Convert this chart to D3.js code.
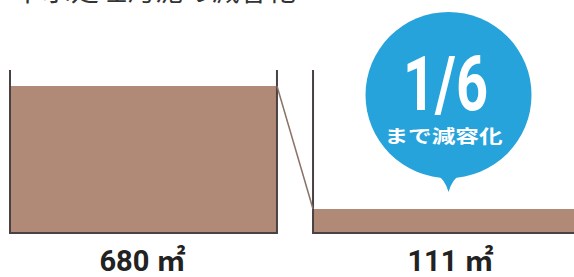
<!DOCTYPE html>
<html>
<head>
<meta charset="utf-8">
<script src="https://cdn.jsdelivr.net/npm/d3@7"></script>
<style>
  html, body { margin: 0; padding: 0; background: #fff; }
  svg { display: block; }
</style>
</head>
<body>
<svg id="mychart" width="574" height="277"></svg>
<script>
// data
const title = "下水処理汚泥の減容化";
const categories = ["before", "after"];
const volumes = [680, 111];
const labels = ["680 ㎡", "111 ㎡"];
const badgeMain = "1/6";
const badgeSub = "まで減容化";

const width = 574, height = 277;
const bottom = 233, fillTop = 86, wallTop = 70;

const svg = d3.select("#mychart");

// title (cut off at the top edge of the picture)
svg.append("text")
  .attr("x", 14)
  .attr("y", 1)
  .attr("font-family", "Noto Sans CJK JP")
  .attr("font-size", 27)
  .attr("fill", "#333")
  .attr("textLength", 282)
  .attr("lengthAdjust", "spacingAndGlyphs")
  .text(title);

const xScale = d3.scaleBand()
  .domain(categories)
  .range([10, 580])
  .paddingInner(0.119)
  .paddingOuter(0);

const yScale = d3.scaleLinear()
  .domain([0, d3.max(volumes)])
  .range([bottom, fillTop]);

const rows = categories.map((c, i) => ({ cat: c, v: volumes[i], label: labels[i] }));

// contents of each tank
svg.selectAll("rect.fill")
  .data(rows)
  .join("rect")
  .attr("class", "fill")
  .attr("x", d => xScale(d.cat))
  .attr("y", d => yScale(d.v))
  .attr("width", xScale.bandwidth())
  .attr("height", d => bottom - yScale(d.v))
  .attr("fill", "#b08a76");

// tank walls (open at the top)
svg.selectAll("path.tank")
  .data(rows)
  .join("path")
  .attr("class", "tank")
  .attr("d", d => {
    const x0 = xScale(d.cat), x1 = x0 + xScale.bandwidth();
    return `M${x0},${wallTop}V${bottom}H${x1}V${wallTop}`;
  })
  .attr("fill", "none")
  .attr("stroke", "#4a4242")
  .attr("stroke-width", 2);

// connector between the two fill levels
const a = rows[0], b = rows[1];
svg.append("line")
  .attr("x1", xScale(a.cat) + xScale.bandwidth())
  .attr("y1", yScale(a.v))
  .attr("x2", xScale(b.cat))
  .attr("y2", yScale(b.v))
  .attr("stroke", "#8a7266")
  .attr("stroke-width", 1.5);

// value labels under the tanks
svg.selectAll("text.val")
  .data(rows)
  .join("text")
  .attr("class", "val")
  .attr("x", (d, i) => xScale(d.cat) + xScale.bandwidth() / 2 + (i ? 4 : -1))
  .attr("y", 271)
  .attr("text-anchor", "middle")
  .attr("font-family", "Roboto, 'Noto Sans CJK JP', sans-serif")
  .attr("font-weight", 700)
  .attr("font-size", 29)
  .attr("fill", "#222")
  .text(d => d.label);

// speech bubble over the second tank
const cx = xScale(b.cat) + xScale.bandwidth() / 2 + 2, cy = 95, r = 83;
const g = svg.append("g");
g.append("circle")
  .attr("cx", cx).attr("cy", cy).attr("r", r)
  .attr("fill", "#27a3db");
g.append("path")
  .attr("d", `M${cx - 14},${cy + r - 6}Q${cx - 3},${cy + r + 2} ${cx},${cy + r + 14}Q${cx + 3},${cy + r + 2} ${cx + 14},${cy + r - 6}Z`)
  .attr("fill", "#27a3db");
g.append("text")
  .attr("x", cx - 3)
  .attr("y", 110)
  .attr("text-anchor", "middle")
  .attr("font-family", "Roboto, sans-serif")
  .attr("font-weight", 700)
  .attr("font-size", 76)
  .attr("fill", "#fff")
  .attr("textLength", 85)
  .attr("lengthAdjust", "spacingAndGlyphs")
  .text(badgeMain);
g.append("text")
  .attr("x", cx - 5)
  .attr("y", 143)
  .attr("text-anchor", "middle")
  .attr("font-family", "'Noto Sans CJK JP', sans-serif")
  .attr("font-weight", 700)
  .attr("font-size", 18)
  .attr("fill", "#fff")
  .attr("textLength", 118)
  .attr("lengthAdjust", "spacingAndGlyphs")
  .text(badgeSub);
</script>
</body>
</html>
